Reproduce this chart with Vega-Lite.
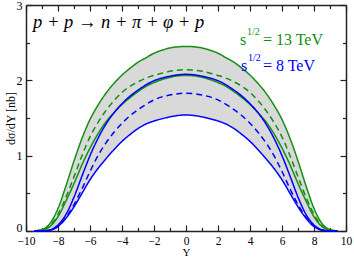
{
  "$schema": "https://vega.github.io/schema/vega-lite/v6.json",
  "width": 320,
  "height": 226,
  "autosize": {"type": "none"},
  "padding": {"left": 26, "top": 5, "right": 8, "bottom": 26},
  "background": "white",
  "config": {
    "font": "Liberation Serif",
    "view": {"stroke": null},
    "axis": {"grid": false, "domainColor": "#222222", "tickColor": "#222222", "labelColor": "black", "titleColor": "black", "domainWidth": 1.5, "tickWidth": 1.2, "labelFont": "Liberation Serif", "titleFont": "Liberation Serif", "labelFontSize": 12, "titleFontSize": 12, "titleFontWeight": "normal"}
  },
  "datasets": {
    "curves": [
      {"Y": -9.5, "GU": 0, "GD": 0, "GL": 0, "BU": 0, "BD": 0, "BL": 0},
      {"Y": -9, "GU": 0.02, "GD": 0.015, "GL": 0.01, "BU": 0, "BD": 0, "BL": 0},
      {"Y": -8.5, "GU": 0.1, "GD": 0.07, "GL": 0.06, "BU": 0.015, "BD": 0.012, "BL": 0.01},
      {"Y": -8, "GU": 0.3, "GD": 0.22, "GL": 0.19, "BU": 0.08, "BD": 0.06, "BL": 0.06},
      {"Y": -7.5, "GU": 0.6, "GD": 0.45, "GL": 0.4, "BU": 0.22, "BD": 0.18, "BL": 0.17},
      {"Y": -7, "GU": 0.93, "GD": 0.72, "GL": 0.63, "BU": 0.45, "BD": 0.35, "BL": 0.32},
      {"Y": -6.5, "GU": 1.23, "GD": 1.0, "GL": 0.88, "BU": 0.73, "BD": 0.56, "BL": 0.5},
      {"Y": -6, "GU": 1.48, "GD": 1.25, "GL": 1.1, "BU": 1.0, "BD": 0.79, "BL": 0.68},
      {"Y": -5.5, "GU": 1.67, "GD": 1.44, "GL": 1.29, "BU": 1.23, "BD": 1.0, "BL": 0.83},
      {"Y": -5, "GU": 1.83, "GD": 1.6, "GL": 1.45, "BU": 1.42, "BD": 1.17, "BL": 0.96},
      {"Y": -4.5, "GU": 1.96, "GD": 1.73, "GL": 1.57, "BU": 1.57, "BD": 1.31, "BL": 1.08},
      {"Y": -4, "GU": 2.07, "GD": 1.84, "GL": 1.68, "BU": 1.69, "BD": 1.43, "BL": 1.19},
      {"Y": -3.5, "GU": 2.16, "GD": 1.92, "GL": 1.77, "BU": 1.79, "BD": 1.53, "BL": 1.28},
      {"Y": -3, "GU": 2.24, "GD": 1.98, "GL": 1.85, "BU": 1.87, "BD": 1.61, "BL": 1.36},
      {"Y": -2.5, "GU": 2.3, "GD": 2.03, "GL": 1.92, "BU": 1.94, "BD": 1.68, "BL": 1.42},
      {"Y": -2, "GU": 2.36, "GD": 2.065, "GL": 1.97, "BU": 1.995, "BD": 1.74, "BL": 1.46},
      {"Y": -1.5, "GU": 2.4, "GD": 2.095, "GL": 2.01, "BU": 2.03, "BD": 1.78, "BL": 1.49},
      {"Y": -1, "GU": 2.43, "GD": 2.12, "GL": 2.04, "BU": 2.055, "BD": 1.805, "BL": 1.515},
      {"Y": -0.5, "GU": 2.445, "GD": 2.135, "GL": 2.06, "BU": 2.073, "BD": 1.823, "BL": 1.533},
      {"Y": 0, "GU": 2.45, "GD": 2.14, "GL": 2.065, "BU": 2.08, "BD": 1.83, "BL": 1.54},
      {"Y": 0.5, "GU": 2.445, "GD": 2.135, "GL": 2.06, "BU": 2.073, "BD": 1.823, "BL": 1.533},
      {"Y": 1, "GU": 2.43, "GD": 2.12, "GL": 2.04, "BU": 2.055, "BD": 1.805, "BL": 1.515},
      {"Y": 1.5, "GU": 2.4, "GD": 2.095, "GL": 2.01, "BU": 2.03, "BD": 1.78, "BL": 1.49},
      {"Y": 2, "GU": 2.36, "GD": 2.065, "GL": 1.97, "BU": 1.995, "BD": 1.74, "BL": 1.46},
      {"Y": 2.5, "GU": 2.3, "GD": 2.03, "GL": 1.92, "BU": 1.94, "BD": 1.68, "BL": 1.42},
      {"Y": 3, "GU": 2.24, "GD": 1.98, "GL": 1.85, "BU": 1.87, "BD": 1.61, "BL": 1.36},
      {"Y": 3.5, "GU": 2.16, "GD": 1.92, "GL": 1.77, "BU": 1.79, "BD": 1.53, "BL": 1.28},
      {"Y": 4, "GU": 2.07, "GD": 1.84, "GL": 1.68, "BU": 1.69, "BD": 1.43, "BL": 1.19},
      {"Y": 4.5, "GU": 1.96, "GD": 1.73, "GL": 1.57, "BU": 1.57, "BD": 1.31, "BL": 1.08},
      {"Y": 5, "GU": 1.83, "GD": 1.6, "GL": 1.45, "BU": 1.42, "BD": 1.17, "BL": 0.96},
      {"Y": 5.5, "GU": 1.67, "GD": 1.44, "GL": 1.29, "BU": 1.23, "BD": 1.0, "BL": 0.83},
      {"Y": 6, "GU": 1.48, "GD": 1.25, "GL": 1.1, "BU": 1.0, "BD": 0.79, "BL": 0.68},
      {"Y": 6.5, "GU": 1.23, "GD": 1.0, "GL": 0.88, "BU": 0.73, "BD": 0.56, "BL": 0.5},
      {"Y": 7, "GU": 0.93, "GD": 0.72, "GL": 0.63, "BU": 0.45, "BD": 0.35, "BL": 0.32},
      {"Y": 7.5, "GU": 0.6, "GD": 0.45, "GL": 0.4, "BU": 0.22, "BD": 0.18, "BL": 0.17},
      {"Y": 8, "GU": 0.3, "GD": 0.22, "GL": 0.19, "BU": 0.08, "BD": 0.06, "BL": 0.06},
      {"Y": 8.5, "GU": 0.1, "GD": 0.07, "GL": 0.06, "BU": 0.015, "BD": 0.012, "BL": 0.01},
      {"Y": 9, "GU": 0.02, "GD": 0.015, "GL": 0.01, "BU": 0, "BD": 0, "BL": 0},
      {"Y": 9.5, "GU": 0, "GD": 0, "GL": 0, "BU": 0, "BD": 0, "BL": 0}
    ],
    "titleText": [{"x": -9.56, "y": 2.69, "label": "p + p → n + π + φ + p"}],
    "legendMain": [
      {"x": 3.38, "y": 2.47, "label": "s", "grp": "13"},
      {"x": 4.81, "y": 2.47, "label": "= 13 TeV", "grp": "13"},
      {"x": 3.44, "y": 2.125, "label": "s", "grp": "8"},
      {"x": 4.81, "y": 2.125, "label": "= 8 TeV", "grp": "8"}
    ],
    "legendSup": [
      {"x": 3.81, "y": 2.6, "label": "1/2", "grp": "13"},
      {"x": 3.87, "y": 2.255, "label": "1/2", "grp": "8"}
    ]
  },
  "resolve": {"axis": {"x": "independent", "y": "independent"}},
  "layer": [
    {
      "data": {"name": "curves"},
      "mark": {"type": "area", "interpolate": "monotone", "color": "#d9d9d9"},
      "encoding": {
        "x": {"field": "Y", "type": "quantitative", "scale": {"domain": [-10, 10], "nice": false},
          "axis": {"orient": "bottom", "values": [-10,-9,-8,-7,-6,-5,-4,-3,-2,-1,0,1,2,3,4,5,6,7,8,9,10],
            "labelExpr": "datum.value % 2 === 0 ? format(datum.value, 'd') : ''",
            "tickSize": {"condition": {"test": "datum.value % 2 === 0", "value": -6}, "value": -3.5},
            "labelFontSize": 11.5, "labelPadding": 10, "title": "Y", "titleFontSize": 11, "titlePadding": 0, "labelFlush": false}},
        "y": {"field": "GU", "type": "quantitative", "scale": {"domain": [0, 3], "nice": false},
          "axis": {"orient": "left", "values": [0,0.5,1,1.5,2,2.5,3],
            "labelExpr": "datum.value % 1 === 0 ? format(datum.value, 'd') : ''",
            "tickSize": {"condition": {"test": "datum.value % 1 === 0", "value": -6}, "value": -3.5},
            "labelOffset": {"condition": {"test": "datum.value === 0", "value": -4}, "value": 0},
            "labelPadding": 10, "title": "dσ/dY [nb]", "titlePadding": -1, "labelFlush": false}},
        "y2": {"field": "BL"}
      }
    },
    {
      "data": {"name": "curves"},
      "transform": [{"fold": ["GU", "GD", "GL"], "as": ["key", "val"]}],
      "mark": {"type": "line", "interpolate": "monotone", "color": "#129012", "strokeWidth": 1.5},
      "encoding": {
        "x": {"field": "Y", "type": "quantitative", "scale": {"domain": [-10, 10], "nice": false},
          "axis": {"orient": "top", "values": [-10,-9,-8,-7,-6,-5,-4,-3,-2,-1,0,1,2,3,4,5,6,7,8,9,10], "labels": false, "title": null,
            "tickSize": {"condition": {"test": "datum.value % 2 === 0", "value": -6}, "value": -3.5}}},
        "y": {"field": "val", "type": "quantitative", "scale": {"domain": [0, 3], "nice": false},
          "axis": {"orient": "right", "values": [0,0.5,1,1.5,2,2.5,3], "labels": false, "title": null,
            "tickSize": {"condition": {"test": "datum.value % 1 === 0", "value": -6}, "value": -3.5}}},
        "detail": {"field": "key"},
        "strokeDash": {"field": "key", "type": "nominal", "scale": {"domain": ["GU", "GD", "GL"], "range": [[1, 0], [6, 4], [1, 0]]}, "legend": null}
      }
    },
    {
      "data": {"name": "curves"},
      "transform": [{"fold": ["BU", "BD", "BL"], "as": ["key", "val"]}],
      "mark": {"type": "line", "interpolate": "monotone", "color": "#0000ff", "strokeWidth": 1.5},
      "encoding": {
        "x": {"field": "Y", "type": "quantitative", "axis": null},
        "y": {"field": "val", "type": "quantitative", "axis": null},
        "detail": {"field": "key"},
        "strokeDash": {"field": "key", "type": "nominal", "scale": {"domain": ["BU", "BD", "BL"], "range": [[1, 0], [6, 4], [1, 0]]}, "legend": null}
      }
    },
    {
      "data": {"name": "titleText"},
      "mark": {"type": "text", "align": "left", "baseline": "alphabetic", "fontSize": 18.5, "fontStyle": "italic", "color": "black"},
      "encoding": {
        "x": {"field": "x", "type": "quantitative", "axis": null},
        "y": {"field": "y", "type": "quantitative", "axis": null},
        "text": {"field": "label"}
      }
    },
    {
      "data": {"name": "legendMain"},
      "mark": {"type": "text", "align": "left", "baseline": "alphabetic", "fontSize": 16},
      "encoding": {
        "x": {"field": "x", "type": "quantitative", "axis": null},
        "y": {"field": "y", "type": "quantitative", "axis": null},
        "text": {"field": "label"},
        "color": {"field": "grp", "type": "nominal", "scale": {"domain": ["13", "8"], "range": ["#129012", "#0000ff"]}, "legend": null}
      }
    },
    {
      "data": {"name": "legendSup"},
      "mark": {"type": "text", "align": "left", "baseline": "alphabetic", "fontSize": 10},
      "encoding": {
        "x": {"field": "x", "type": "quantitative", "axis": null},
        "y": {"field": "y", "type": "quantitative", "axis": null},
        "text": {"field": "label"},
        "color": {"field": "grp", "type": "nominal", "scale": {"domain": ["13", "8"], "range": ["#129012", "#0000ff"]}, "legend": null}
      }
    }
  ]
}
